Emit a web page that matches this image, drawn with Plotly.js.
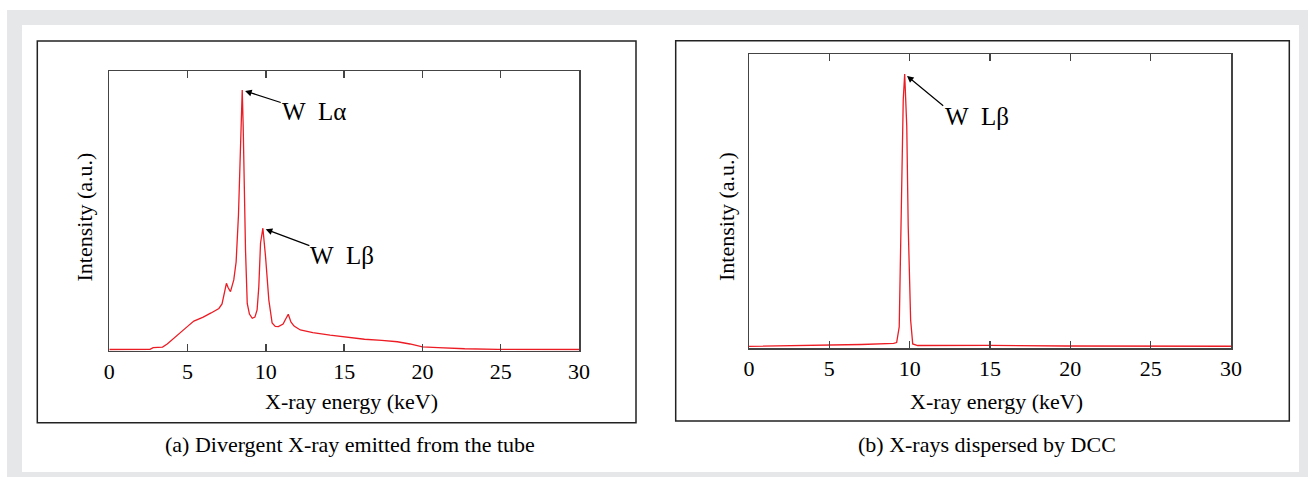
<!DOCTYPE html>
<html>
<head>
<meta charset="utf-8">
<script src="https://cdn.plot.ly/plotly-3.0.1.min.js"></script>
<style>
  html, body { margin: 0; padding: 0; background: #ffffff; }
  #chart { width: 1309px; height: 477px; }
</style>
</head>
<body>
<div id="chart"></div>
<script>
// ---------------- data ----------------
// (a) Divergent X-ray emitted from the tube
const energyA = [0, 2.6, 2.8, 3.4, 3.7, 4.2, 4.6, 5.0, 5.4, 6.0, 6.5, 7.0, 7.2, 7.35, 7.48, 7.6, 7.74, 7.95,
  8.1, 8.25, 8.34, 8.42, 8.49, 8.55, 8.6, 8.7, 8.81, 8.95, 9.13, 9.3, 9.44, 9.55, 9.66, 9.81, 9.98,
  10.19, 10.4, 10.6, 10.8, 11.1, 11.3, 11.43, 11.6, 11.8, 12.2, 13.0, 14.1, 15.3, 16.3, 17.4, 18.4,
  19.2, 20.0, 21.0, 22.7, 24.8, 27.0, 30.0];
const intensityA = [0.43, 0.5, 1.1, 1.3, 2.4, 4.9, 7.0, 8.7, 10.6, 12.0, 13.5, 15.1, 16.7, 21.0, 24.1, 22.4, 21.1, 25.3,
  31.7, 48.5, 64.6, 82.5, 93.2, 80.7, 64.6, 36.0, 16.9, 13.1, 11.6, 12.0, 14.6, 22.9, 38.5, 43.8, 33.6,
  18.1, 9.9, 8.7, 8.6, 9.5, 11.7, 13.0, 10.3, 8.8, 7.4, 6.5, 5.6, 4.8, 4.1, 3.7, 3.2,
  2.4, 1.4, 1.1, 0.7, 0.5, 0.43, 0.43];

// (b) X-rays dispersed by DCC
const energyB = [0, 1.8, 1.9, 5.0, 7.0, 9.0, 9.19, 9.35, 9.50, 9.60, 9.69, 9.82, 9.91, 10.06, 10.19, 10.5,
  15.0, 19.5, 19.7, 30.0];
const intensityB = [0.68, 0.78, 1.0, 1.1, 1.3, 1.7, 1.97, 7.3, 61.8, 84.5, 93.3, 75.4, 41.4, 9.6, 1.5, 0.95,
  1.0, 1.0, 0.78, 0.7];

const tickValues = [0, 5, 10, 15, 20, 25, 30];
const tickLabels = ["0", "5", "10", "15", "20", "25", "30"];

const labelLa = "W\u00a0\u00a0L\u03b1";
const labelLb = "W\u00a0\u00a0L\u03b2";
const xTitle = "X-ray energy (keV)";
const yTitle = "Intensity (a.u.)";
const captionA = "(a) Divergent X-ray emitted from the tube";
const captionB = "(b) X-rays dispersed by DCC";

// ---------------- layout helpers ----------------
const W = 1309, H = 477;
const px = v => v / W;
const py = v => 1 - v / H;
const serif = "Liberation Serif, DejaVu Serif, serif";
const red = "#ec1c24";

function peakIn(xs, ys, lo, hi) {
  let best = -1;
  for (let i = 0; i < xs.length; i++) {
    if (xs[i] >= lo && xs[i] <= hi && (best < 0 || ys[i] > ys[best])) best = i;
  }
  return { x: xs[best], y: ys[best] };
}
const pLa = peakIn(energyA, intensityA, 8, 9);
const pLbA = peakIn(energyA, intensityA, 9.5, 10.5);
const pLbB = peakIn(energyB, intensityB, 9, 10.5);

const traces = [
  { x: energyA, y: intensityA, xaxis: 'x', yaxis: 'y', type: 'scatter', mode: 'lines',
    line: { color: red, width: 1.3 }, hoverinfo: 'skip', showlegend: false },
  { x: energyB, y: intensityB, xaxis: 'x2', yaxis: 'y2', type: 'scatter', mode: 'lines',
    line: { color: red, width: 1.3 }, hoverinfo: 'skip', showlegend: false }
];

function xAxis(domain, anchor) {
  return {
    domain: domain, anchor: anchor, range: [0, 30], tickmode: 'array',
    tickvals: tickValues, ticktext: tickLabels, ticks: 'inside', ticklen: 7, tickwidth: 1.5,
    tickcolor: '#444', showline: true, linecolor: '#444', linewidth: 1.5, mirror: 'ticks',
    showgrid: false, zeroline: false, fixedrange: true,
    tickfont: { family: serif, size: 22, color: '#000' }
  };
}
function yAxis(domain, anchor) {
  return {
    domain: domain, anchor: anchor, range: [0, 100], showticklabels: false, ticks: '',
    showline: true, linecolor: '#444', linewidth: 1.5, mirror: true,
    showgrid: false, zeroline: false, fixedrange: true
  };
}

const textFont = { family: serif, size: 22, color: '#000' };
const peakFont = { family: serif, size: 25, color: '#000' };

function arrow(p, xref, yref, ax, ay) {
  return { x: p.x, y: p.y, xref: xref, yref: yref, text: '', showarrow: true,
    ax: ax, ay: ay, arrowhead: 2, arrowsize: 1.1, arrowwidth: 1.2, arrowcolor: '#000', standoff: 3 };
}
function peakText(p, xref, yref, txt, xs, ys) {
  return { x: p.x, y: p.y, xref: xref, yref: yref, text: txt, showarrow: false,
    xanchor: 'left', yanchor: 'middle', xshift: xs, yshift: ys, font: peakFont };
}
function paperText(txt, x, y, angle) {
  return { x: px(x), y: py(y), xref: 'paper', yref: 'paper', text: txt, showarrow: false,
    xanchor: 'center', yanchor: 'middle', textangle: angle || 0, font: textFont };
}

const layout = {
  width: W, height: H,
  margin: { l: 0, r: 0, t: 0, b: 0, pad: 0 },
  paper_bgcolor: '#ffffff', plot_bgcolor: 'rgba(0,0,0,0)',
  showlegend: false,
  xaxis: xAxis([px(109.3), px(579)], 'y'),
  yaxis: yAxis([py(350.7), py(71)], 'x'),
  xaxis2: xAxis([px(749), px(1231)], 'y2'),
  yaxis2: yAxis([py(348.3), py(54.3)], 'x2'),
  shapes: [
    { type: 'rect', xref: 'paper', yref: 'paper', x0: px(7), x1: px(1308), y0: py(477), y1: py(10),
      fillcolor: '#e6e7e8', line: { width: 0 }, layer: 'below' },
    { type: 'rect', xref: 'paper', yref: 'paper', x0: px(22), x1: px(1299), y0: py(472), y1: py(25),
      fillcolor: '#ffffff', line: { width: 0 }, layer: 'below' },
    { type: 'rect', xref: 'paper', yref: 'paper', x0: px(37.3), x1: px(636), y0: py(422.7), y1: py(41),
      line: { color: '#222', width: 1.5 }, layer: 'below' },
    { type: 'rect', xref: 'paper', yref: 'paper', x0: px(675.7), x1: px(1289.3), y0: py(421), y1: py(40.7),
      line: { color: '#222', width: 1.5 }, layer: 'below' }
  ],
  annotations: [
    arrow(pLa, 'x', 'y', 40, 13),
    peakText(pLa, 'x', 'y', labelLa, 38, -21),
    arrow(pLbA, 'x', 'y', 48, 18),
    peakText(pLbA, 'x', 'y', labelLb, 45, -27),
    arrow(pLbB, 'x2', 'y2', 40, 33),
    peakText(pLbB, 'x2', 'y2', labelLb, 38, -43),
    paperText(xTitle, 351, 401.5),
    paperText(xTitle, 996, 401),
    paperText(yTitle, 84, 217.5, -90),
    paperText(yTitle, 726, 217, -90),
    paperText(captionA, 350, 444),
    paperText(captionB, 986.5, 444)
  ]
};

Plotly.newPlot('chart', traces, layout, { staticPlot: true, displayModeBar: false });
</script>
</body>
</html>
